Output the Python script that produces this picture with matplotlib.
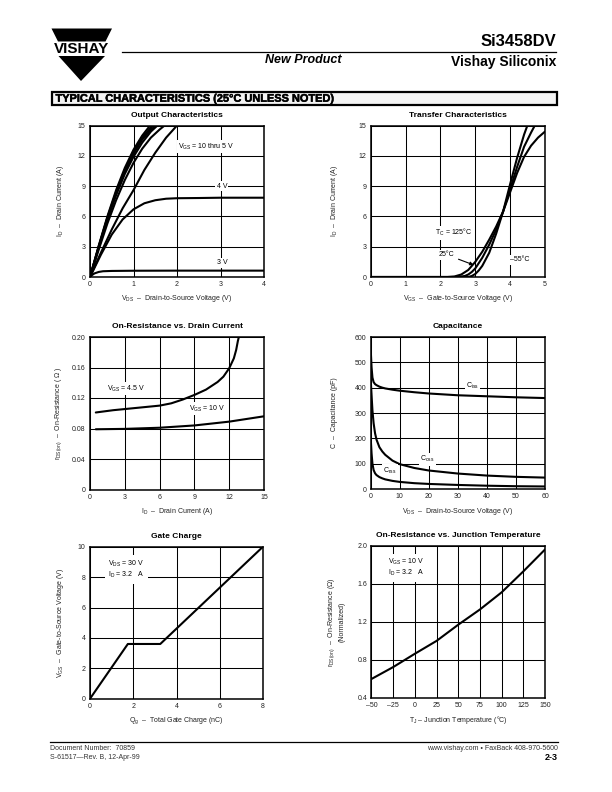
import matplotlib
matplotlib.use('Agg')
import matplotlib.pyplot as plt
import matplotlib.patheffects as pe
from matplotlib.patches import Polygon, Rectangle

plt.rcParams['font.family'] = 'Liberation Sans'
plt.rcParams['mathtext.fontset'] = 'custom'
plt.rcParams['mathtext.rm'] = 'Liberation Sans'
plt.rcParams['mathtext.default'] = 'regular'

# ---- Output Characteristics (ID vs VDS, one curve per VGS) ----
vds_10v = [0, 0.2, 0.4, 0.6, 0.8, 1.0, 1.2, 1.4, 1.45]
id_10v = [0, 3.1, 6.0, 8.6, 10.8, 12.6, 14.0, 15.1, 15.4]
vds_9v = [0, 0.2, 0.4, 0.6, 0.8, 1.0, 1.2, 1.4, 1.5]
id_9v = [0, 3.0, 5.9, 8.4, 10.6, 12.4, 13.8, 14.8, 15.3]
vds_8v = [0, 0.2, 0.4, 0.6, 0.8, 1.0, 1.2, 1.4, 1.6]
id_8v = [0, 3.0, 5.8, 8.3, 10.4, 12.2, 13.6, 14.6, 15.3]
vds_7v = [0, 0.2, 0.4, 0.6, 0.8, 1.0, 1.2, 1.4, 1.6]
id_7v = [0, 2.9, 5.7, 8.1, 10.2, 11.9, 13.3, 14.4, 15.2]
vds_6v = [0, 0.2, 0.4, 0.6, 0.8, 1.0, 1.2, 1.4, 1.6, 1.8]
id_6v = [0, 2.7, 5.3, 7.6, 9.6, 11.3, 12.7, 13.8, 14.6, 15.3]
vds_5v = [0, 0.25, 0.5, 0.75, 1.0, 1.25, 1.5, 1.75, 2.0, 2.1]
id_5v = [0, 2.4, 4.7, 6.8, 8.6, 10.6, 12.3, 13.8, 15.0, 15.5]
vds_4v = [0, 0.25, 0.5, 0.75, 1.0, 1.25, 1.5, 1.75, 2.0, 2.5, 3.0, 3.5, 4.0]
id_4v = [0, 2.2, 4.2, 5.7, 6.7, 7.3, 7.6, 7.75, 7.8, 7.82, 7.85, 7.85, 7.85]
vds_3v = [0, 0.05, 0.1, 0.2, 0.3, 0.5, 1.0, 2.0, 3.0, 4.0]
id_3v = [0, 0.2, 0.35, 0.5, 0.57, 0.6, 0.62, 0.63, 0.63, 0.63]

# ---- Transfer Characteristics (ID vs VGS, per case temperature) ----
vgs_125c = [0, 2.2, 2.4, 2.6, 2.8, 3.0, 3.2, 3.4, 3.6, 3.8, 4.0, 4.2, 4.4, 4.6, 4.8, 5.0]
id_125c = [0, 0, 0.05, 0.25, 0.7, 1.5, 2.5, 3.7, 5.0, 6.5, 8.4, 10.3, 11.9, 13.0, 13.8, 14.4]
vgs_25c = [0, 2.5, 2.7, 2.8, 2.9, 3.0, 3.2, 3.4, 3.6, 3.8, 4.0, 4.2, 4.4, 4.6, 4.8]
id_25c = [0, 0, 0.1, 0.25, 0.5, 0.85, 1.9, 3.2, 4.7, 6.5, 8.7, 10.9, 12.9, 14.3, 15.6]
vgs_m55c = [0, 2.8, 2.9, 3.0, 3.1, 3.2, 3.4, 3.6, 3.8, 4.0, 4.2, 4.4, 4.6]
id_m55c = [0, 0, 0.1, 0.3, 0.65, 1.1, 2.4, 4.3, 6.5, 9.2, 11.8, 14.1, 16.0]

# ---- On-Resistance vs. Drain Current ----
id_45v = [0.5, 2, 4, 6, 7, 8, 9, 10, 11, 11.5, 12, 12.4, 12.6, 12.75, 12.85]
rds_45v = [0.101, 0.104, 0.107, 0.110, 0.113, 0.118, 0.124, 0.131, 0.141, 0.148, 0.159, 0.172, 0.183, 0.195, 0.201]
id_10vr = [0.5, 3, 6, 9, 12, 15]
rds_10vr = [0.079, 0.0795, 0.081, 0.084, 0.089, 0.096]

# ---- Capacitance ----
vds_cap = [0, 0.3, 0.6, 1, 1.5, 2, 3, 4, 5, 7.5, 10, 15, 20, 30, 40, 50, 60]
c_iss = [550, 480, 440, 422, 414, 410, 404, 400, 397, 392, 388, 382, 377, 370, 366, 362, 359]
c_oss = [430, 370, 310, 260, 220, 195, 165, 148, 135, 112, 98, 83, 73, 61, 53, 48, 45]
c_rss = [200, 140, 100, 75, 62, 55, 47, 42, 38, 32, 28, 23, 20, 16, 13, 11, 10]

# ---- Gate Charge ----
qg = [0, 1.75, 3.25, 8.0]
vgs_qg = [0, 3.6, 3.6, 10.0]

# ---- On-Resistance vs. Junction Temperature ----
tj = [-50, -25, 0, 25, 50, 75, 100, 125, 150]
rds_norm = [0.60, 0.725, 0.865, 1.0, 1.17, 1.33, 1.51, 1.73, 1.96]

W, H = 612, 792
fig = plt.figure(figsize=(W / 100, H / 100), dpi=100)

# page overlay in pixel coordinates
bg = fig.add_axes([0, 0, 1, 1], zorder=-1)
bg.set_xlim(0, W)
bg.set_ylim(H, 0)
bg.axis('off')

# logo
bg.add_patch(Polygon([(51.5, 28.5), (112, 28.5), (105.5, 41.5), (58, 41.5)], closed=True, fc='black', ec='none'))
bg.add_patch(Polygon([(58.5, 56), (105, 56), (81, 81)], closed=True, fc='black', ec='none'))
bg.text(82, 49.3, 'VISHAY', ha='center', va='center', fontsize=11, fontweight='bold')

bg.plot([122, 556], [52, 52], color='black', lw=0.9)
bg.text(556, 41.5, 'Si3458DV', ha='right', va='center', fontsize=12, fontweight='bold')
bg.text(556, 62, 'Vishay Siliconix', ha='right', va='center', fontsize=10, fontweight='bold')
bg.text(303, 60, 'New Product', ha='center', va='center', fontsize=9, fontweight='bold', style='italic')

# section box
bg.add_patch(Rectangle((52, 92), 504.5, 13, fc='#f4f4f4', ec='black', lw=1.6))
bg.text(55.5, 98.7, 'TYPICAL CHARACTERISTICS (25\u00b0C UNLESS NOTED)', ha='left', va='center',
        fontsize=7.9, fontweight='bold', path_effects=[pe.withStroke(linewidth=0.35, foreground='black')])

# footer
bg.plot([50, 558], [742, 742], color='black', lw=0.9)
bg.text(50, 749, 'Document Number:  70859', ha='left', va='center', fontsize=5, color='#333333')
bg.text(50, 757.5, 'S-61517\u2014Rev. B, 12-Apr-99', ha='left', va='center', fontsize=5, color='#333333')
bg.text(558, 749, 'www.vishay.com \u2022 FaxBack 408-970-5600', ha='right', va='center', fontsize=5, color='#333333')
bg.text(558, 757.5, '2-3', ha='right', va='center', fontsize=6.5, fontweight='bold')


def px_axes(left, top, w, h):
    return fig.add_axes([left / W, 1 - (top + h) / H, w / W, h / H])


def style(ax, xlim, ylim, xticks, yticks, xtl, ytl, title, xlabel, ylabel, ylx):
    ax.set_xlim(xlim)
    ax.set_ylim(ylim)
    ax.set_xticks(xticks)
    ax.set_yticks(yticks)
    ax.set_xticklabels(xtl)
    ax.set_yticklabels(ytl)
    ax.grid(True, color='black', lw=0.75)
    ax.tick_params(length=0, pad=3.2, labelsize=5, colors='#222222')
    for s in ax.spines.values():
        s.set_linewidth(1.1)
    ax.text(0.5, 1.066, title, transform=ax.transAxes, ha='center', va='center',
            fontsize=6, fontweight='bold')
    ax.text(0.5, -0.145, xlabel, transform=ax.transAxes, ha='center', va='center',
            fontsize=5, color='#222222')
    ax.text(ylx, 0.5, ylabel, transform=ax.transAxes, ha='center', va='center',
            rotation=90, fontsize=5, color='#222222', multialignment='center')


curve = dict(color='black', lw=1.5, solid_capstyle='round')
wbox = dict(facecolor='white', edgecolor='none', pad=1.0)

# Output Characteristics
ax1 = px_axes(90, 125.5, 174, 151.5)
for x, y in [(vds_10v, id_10v), (vds_9v, id_9v), (vds_8v, id_8v), (vds_7v, id_7v),
             (vds_6v, id_6v), (vds_5v, id_5v), (vds_4v, id_4v), (vds_3v, id_3v)]:
    ax1.plot(x, y, **curve)
style(ax1, (0, 4), (0, 15), [0, 1, 2, 3, 4], [0, 3, 6, 9, 12, 15],
      ['0', '1', '2', '3', '4'], ['0', '3', '6', '9', '12', '15'],
      'Output Characteristics', 'V$_{DS}$  \u2013  Drain-to-Source Voltage (V)',
      'I$_{D}$  \u2013  Drain Current (A)', -0.172)
ax1.text(2.68, 12.9, r'V$_{GS}$ = 10 thru 5 V', fontsize=5, ha='center', va='center', bbox=wbox)
ax1.text(3.03, 9, '4 V', fontsize=5, ha='center', va='center', bbox=wbox)
ax1.text(3.05, 1.4, '3 V', fontsize=5, ha='center', va='center', bbox=wbox)

# Transfer Characteristics
ax2 = px_axes(370.7, 125.5, 174.3, 151.5)
for x, y in [(vgs_125c, id_125c), (vgs_25c, id_25c), (vgs_m55c, id_m55c)]:
    ax2.plot(x, y, **curve)
style(ax2, (0, 5), (0, 15), [0, 1, 2, 3, 4, 5], [0, 3, 6, 9, 12, 15],
      ['0', '1', '2', '3', '4', '5'], ['0', '3', '6', '9', '12', '15'],
      'Transfer Characteristics', 'V$_{GS}$  \u2013  Gate-to-Source Voltage (V)',
      'I$_{D}$  \u2013  Drain Current (A)', -0.205)
ax2.text(2.37, 4.4, 'T$_{C}$ = 125\u00b0C', fontsize=5, ha='center', va='center', bbox=wbox)
ax2.annotate('25\u00b0C', xy=(2.95, 1.2), xytext=(2.18, 2.2), fontsize=5, ha='center', va='center',
             bbox=wbox, arrowprops=dict(arrowstyle='-|>', color='black', lw=0.8, mutation_scale=5,
                                        shrinkA=2, shrinkB=0))
ax2.text(4.28, 1.7, '\u201355\u00b0C', fontsize=5, ha='center', va='center', bbox=wbox)

# On-Resistance vs. Drain Current
ax3 = px_axes(90, 337, 174, 152.5)
ax3.plot(id_45v, rds_45v, **curve)
ax3.plot(id_10vr, rds_10vr, **curve)
style(ax3, (0, 15), (0, 0.20), [0, 3, 6, 9, 12, 15], [0, 0.04, 0.08, 0.12, 0.16, 0.20],
      ['0', '3', '6', '9', '12', '15'], ['0', '0.04', '0.08', '0.12', '0.16', '0.20'],
      'On-Resistance vs. Drain Current', 'I$_{D}$  \u2013  Drain Current (A)',
      'r$_{DS(on)}$  \u2013  On-Resistance ( \u03a9 )', -0.18)
ax3.text(3.16, 0.132, 'V$_{GS}$ = 4.5 V', fontsize=5, ha='center', va='center', bbox=wbox)
ax3.text(10.06, 0.106, 'V$_{GS}$ = 10 V', fontsize=5, ha='center', va='center', bbox=wbox)

# Capacitance
ax4 = px_axes(370.7, 337, 174.3, 152)
for y in [c_iss, c_oss, c_rss]:
    ax4.plot(vds_cap, y, **curve)
style(ax4, (0, 60), (0, 600), [0, 10, 20, 30, 40, 50, 60], [0, 100, 200, 300, 400, 500, 600],
      ['0', '10', '20', '30', '40', '50', '60'], ['0', '100', '200', '300', '400', '500', '600'],
      'Capacitance', 'V$_{DS}$  \u2013  Drain-to-Source Voltage (V)',
      'C  \u2013  Capacitance (pF)', -0.205)
ax4.text(35.0, 408, 'C$_{iss}$', fontsize=5, ha='center', va='center', bbox=wbox)
ax4.text(19.6, 118, 'C$_{oss}$', fontsize=5, ha='center', va='center', bbox=wbox)
ax4.text(6.6, 73, 'C$_{rss}$', fontsize=5, ha='center', va='center', bbox=wbox)

# Gate Charge
ax5 = px_axes(90, 546.7, 173, 152)
ax5.plot(qg, vgs_qg, **curve)
style(ax5, (0, 8), (0, 10), [0, 2, 4, 6, 8], [0, 2, 4, 6, 8, 10],
      ['0', '2', '4', '6', '8'], ['0', '2', '4', '6', '8', '10'],
      'Gate Charge', 'Q$_{g}$  \u2013  Total Gate Charge (nC)',
      'V$_{GS}$  \u2013  Gate-to-Source Voltage (V)', -0.172)
ax5.text(0.85, 8.5, 'V$_{DS}$ = 30 V\nI$_{D}$ = 3.2   A', fontsize=5, ha='left', va='center',
         linespacing=1.1, bbox=dict(facecolor='white', edgecolor='none', pad=2.5))

# On-Resistance vs. Junction Temperature
ax6 = px_axes(371.5, 545.7, 173.5, 152.3)
ax6.plot(tj, rds_norm, **curve)
style(ax6, (-50, 150), (0.4, 2.0), [-50, -25, 0, 25, 50, 75, 100, 125, 150],
      [0.4, 0.8, 1.2, 1.6, 2.0],
      ['\u201350', '\u201325', '0', '25', '50', '75', '100', '125', '150'],
      ['0.4', '0.8', '1.2', '1.6', '2.0'],
      'On-Resistance vs. Junction Temperature', 'T$_{J}$ \u2013 Junction Temperature (\u00b0C)',
      'r$_{DS(on)}$  \u2013  On-Resistance (\u03a9)\n(Normalized)', -0.205)
ax6.text(-31, 1.77, 'V$_{GS}$ = 10 V\nI$_{D}$ = 3.2   A', fontsize=5, ha='left', va='center',
         linespacing=1.1, bbox=dict(facecolor='white', edgecolor='none', pad=2.5))

fig.savefig('out.png', dpi=100)
